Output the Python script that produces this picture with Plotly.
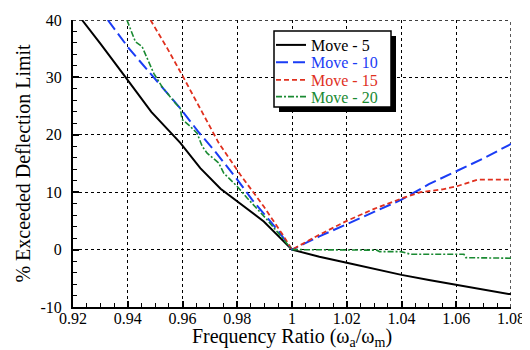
import plotly.graph_objects as go

# ---- data ----
x_move5 = [0.9233, 0.93, 0.9391, 0.9486, 0.9592, 0.9665, 0.9739, 0.98, 0.9897, 1.0,
           1.01, 1.02, 1.03, 1.04, 1.05, 1.06, 1.07, 1.08]
y_move5 = [40, 35.9, 30.1, 24.0, 18.6, 14.2, 10.6, 8.4, 4.9, 0,
           -1.25, -2.3, -3.4, -4.4, -5.3, -6.1, -6.95, -7.8]

x_move10 = [0.9327, 0.9405, 0.9495, 0.9592, 0.966, 0.9714, 0.98, 0.9854, 0.9946, 1.0,
            1.01, 1.02, 1.03, 1.04, 1.05, 1.06, 1.07, 1.08]
y_move10 = [40, 35.0, 30.0, 24.6, 20.4, 17.4, 12.2, 8.7, 3.5, 0,
            2.3, 4.4, 6.6, 8.7, 11.4, 13.6, 15.9, 18.4]

x_move15 = [0.9483, 0.9544, 0.96, 0.9653, 0.9732, 0.9812, 0.9897, 0.997, 1.0,
            1.01, 1.02, 1.03, 1.04, 1.047, 1.05, 1.055, 1.06, 1.065, 1.068, 1.08]
y_move15 = [40, 35.1, 30.3, 25.5, 18.6, 13.0, 7.5, 2.3, 0,
            2.6, 5.0, 7.1, 8.9, 10.0, 10.2, 10.5, 11.0, 11.7, 12.2, 12.2]

x_move20 = [0.9397, 0.9428, 0.9452, 0.9471, 0.9495, 0.9525, 0.9544, 0.9574, 0.9592, 0.9598,
            0.9623, 0.9653, 0.9672, 0.969, 0.9732, 0.9751, 0.98, 0.9836, 0.9909, 1.0,
            1.031, 1.032, 1.0397, 1.0433, 1.0628, 1.0635, 1.08]
y_move20 = [40, 36.2, 35.4, 33.3, 30.7, 28.4, 27.2, 25.5, 24.6, 22.7,
            21.7, 20.3, 18.0, 16.8, 15.1, 13.3, 11.0, 9.0, 5.2, 0,
            -0.1, -0.35, -0.35, -0.8, -0.8, -1.4, -1.5]

x_range = [0.92, 1.08]
y_range = [-10, 40]
x_tick_vals = [0.92, 0.94, 0.96, 0.98, 1.0, 1.02, 1.04, 1.06, 1.08]
x_tick_labels = ["0.92", "0.94", "0.96", "0.98", "1", "1.02", "1.04", "1.06", "1.08"]
y_tick_vals = [-10, 0, 10, 20, 30, 40]
y_tick_labels = ["-10", "0", "10", "20", "30", "40"]

series_names = ["Move - 5", "Move - 10", "Move - 15", "Move - 20"]
series_colors = ["#000000", "#1a3cf5", "#e0301e", "#1a8a32"]
series_dash = ["solid", "12px,5px", "5px,3px", "6px,2px,2px,2px"]
series_width = [2, 2, 1.8, 1.6]
series_x = [x_move5, x_move10, x_move15, x_move20]
series_y = [y_move5, y_move10, y_move15, y_move20]

FONT = "Liberation Serif, Times New Roman, DejaVu Serif, serif"

fig = go.Figure()
legend_ids = ["legend", "legend2", "legend3", "legend4"]
for i in range(4):
    fig.add_trace(go.Scatter(
        x=series_x[i], y=series_y[i], mode="lines",
        name=f"<span style='color:{series_colors[i]}'>{series_names[i]}</span>",
        line=dict(color=series_colors[i], width=series_width[i], dash=series_dash[i]),
        legend=legend_ids[i],
    ))

# The page body adds an 8px margin, so the figure is laid out in page pixels minus 8.
OFF = 8
W, H = 530 - OFF, 350 - OFF
L, R, T, B = 73 - OFF, 511 - OFF, 20 - OFF, 307 - OFF
def px2paper_x(px):
    return (px - OFF - L) / (R - L)
def px2paper_y(py):
    return (B - (py - OFF)) / (B - T)

legend_rows = [45, 62.3, 80, 96.7]
legend_common = dict(bgcolor="rgba(0,0,0,0)", borderwidth=0,
                     font=dict(family=FONT, size=16, color="black"),
                     xanchor="left", yanchor="middle")
layout_legends = {}
for i, lid in enumerate(legend_ids):
    layout_legends[lid] = dict(x=px2paper_x(271), y=px2paper_y(legend_rows[i]), **legend_common)

axis_common = dict(
    showgrid=True, gridcolor="black", gridwidth=1.3, griddash="dot",
    showline=True, linecolor="black", linewidth=2, mirror=False,
    ticks="inside", ticklen=6, tickwidth=1.5, tickcolor="black",
    zeroline=False, automargin=False,
    tickfont=dict(family=FONT, size=16, color="black"),
)

fig.update_layout(
    width=W, height=H,
    margin=dict(l=L, r=W - R, t=T, b=H - B, autoexpand=False),
    paper_bgcolor="white", plot_bgcolor="white",
    font=dict(family=FONT, size=16, color="black"),
    showlegend=True,
    xaxis=dict(range=x_range, tickmode="array", tickvals=x_tick_vals, ticktext=x_tick_labels,
               minor=dict(ticks="inside", dtick=0.005, tick0=0.92, ticklen=4, tickcolor="black", tickwidth=1.2, showgrid=False),
               title=dict(text="Frequency Ratio (ω<sub>a</sub>/ω<sub>m</sub>)",
                          font=dict(family=FONT, size=20, color="black"), standoff=7),
               ticklabelstandoff=-4,
               **axis_common),
    yaxis=dict(range=y_range, tickmode="array", tickvals=y_tick_vals, ticktext=y_tick_labels,
               minor=dict(ticks="inside", dtick=2, tick0=0, ticklen=4, tickcolor="black", tickwidth=1.2, showgrid=False),
               title=dict(text="% Exceeded Deflection Limit",
                          font=dict(family=FONT, size=20, color="black"), standoff=4),
               ticklabelstandoff=6,
               **axis_common),
    **layout_legends,
)

# grid lines on the far edges (top and right), which plotly omits
fig.add_shape(type="line", xref="x domain", yref="y", x0=0, x1=1, y0=y_range[1], y1=y_range[1],
              layer="below", line=dict(color="black", width=1.3, dash="dot"))
fig.add_shape(type="line", xref="x", yref="y domain", x0=x_range[1], x1=x_range[1], y0=0, y1=1,
              layer="below", line=dict(color="black", width=1.3, dash="dot"))

# legend frame with drop shadow
fig.add_shape(type="rect", xref="paper", yref="paper", layer="above",
              x0=px2paper_x(279), x1=px2paper_x(396), y0=px2paper_y(112), y1=px2paper_y(36),
              fillcolor="black", line=dict(color="black", width=0))
fig.add_shape(type="rect", xref="paper", yref="paper", layer="above",
              x0=px2paper_x(274), x1=px2paper_x(391), y0=px2paper_y(107), y1=px2paper_y(31),
              fillcolor="white", line=dict(color="black", width=1.5))

fig.write_html("out.html")
